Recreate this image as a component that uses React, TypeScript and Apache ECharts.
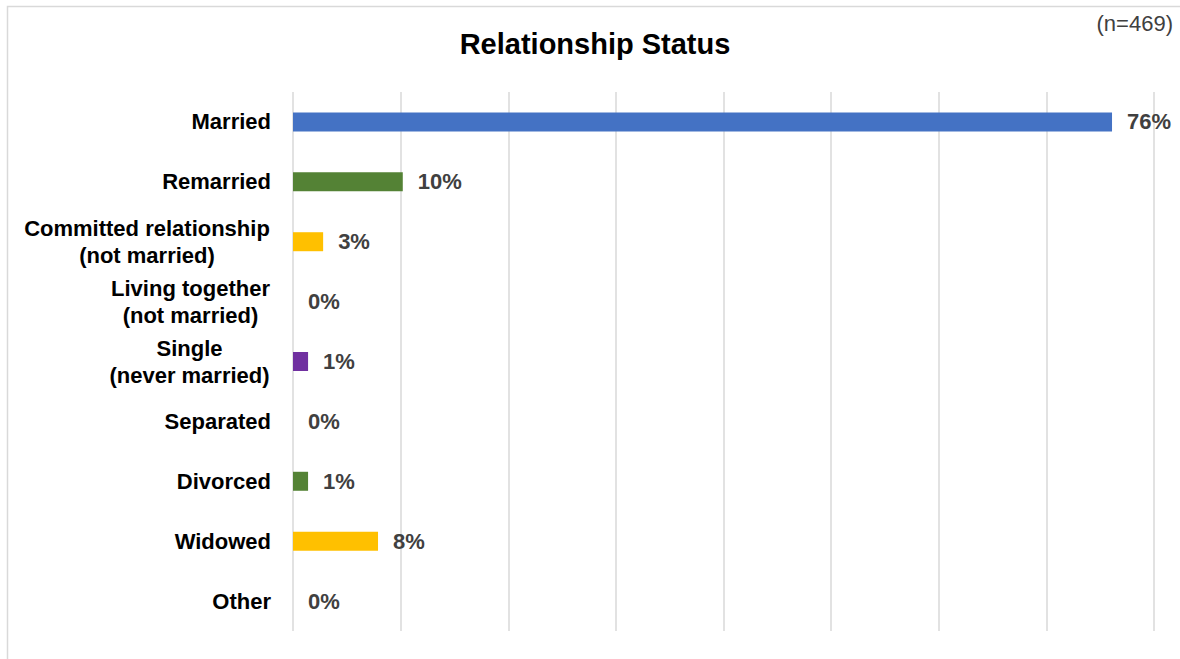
import React, { useEffect, useRef } from "react";
import * as echarts from "echarts";

const categories = [
  "Married",
  "Remarried",
  "Committed relationship\n(not married)",
  "Living together\n(not married)",
  "Single\n(never married)",
  "Separated",
  "Divorced",
  "Widowed",
  "Other",
];
const values = [76.1, 10.2, 2.8, 0, 1.4, 0, 1.4, 7.9, 0];
const barColors = [
  "#4472C4",
  "#548235",
  "#FFC000",
  "#A5A5A5",
  "#7030A0",
  "#4472C4",
  "#548235",
  "#FFC000",
  "#7030A0",
];
const xTicks = [0, 10, 20, 30, 40, 50, 60, 70, 80];
const titleText = "Relationship Status";
const sampleText = "(n=469)";

const FONT = '"Liberation Sans", Arial, sans-serif';
const LABEL_SIZE = 22;

function measure(text: string): number {
  const c = document.createElement("canvas");
  const ctx = c.getContext("2d");
  if (!ctx) return text.length * 11;
  ctx.font = `bold ${LABEL_SIZE}px ${FONT}`;
  return ctx.measureText(text).width;
}

export default function App() {
  const ref = useRef<HTMLDivElement>(null);

  useEffect(() => {
    if (!ref.current) return;
    const chart = echarts.init(ref.current, null, { renderer: "svg" });

    const rich: Record<string, any> = {};
    categories.forEach((cat, i) => {
      const lines = cat.split("\n");
      const w = Math.ceil(Math.max(...lines.map(measure))) + 2;
      rich["c" + i] = {
        width: lines.length > 1 ? w : undefined,
        align: lines.length > 1 ? "center" : "right",
        fontSize: LABEL_SIZE,
        fontWeight: "bold",
        fontFamily: FONT,
        color: "#000000",
        lineHeight: 27,
      };
    });

    chart.setOption({
      animation: false,
      backgroundColor: "#ffffff",
      graphic: [
        {
          type: "rect",
          shape: { x: 7.5, y: 6.5, width: 1300, height: 800 },
          style: { fill: "none", stroke: "#d9d9d9", lineWidth: 1.5 },
          silent: true,
        },
        {
          type: "text",
          x: 595,
          y: 44,
          style: {
            text: titleText,
            fontSize: 29,
            fontWeight: "bold",
            fontFamily: FONT,
            fill: "#000000",
            textAlign: "center",
            textVerticalAlign: "middle",
          },
        },
        {
          type: "text",
          x: 1173,
          y: 23,
          style: {
            text: sampleText,
            fontSize: 22,
            fontFamily: FONT,
            fill: "#404040",
            textAlign: "right",
            textVerticalAlign: "middle",
          },
        },
      ],
      grid: { left: 293, right: 26, top: 92, bottom: 28, containLabel: false },
      xAxis: {
        type: "value",
        min: xTicks[0],
        max: xTicks[xTicks.length - 1],
        interval: 10,
        axisLabel: { show: false },
        axisLine: { show: false },
        axisTick: { show: false },
        splitLine: { show: true, lineStyle: { color: "#d9d9d9", width: 1.5 } },
      },
      yAxis: {
        type: "category",
        data: categories,
        inverse: true,
        axisLine: { show: false },
        axisTick: { show: false },
        axisLabel: {
          margin: 22,
          formatter: (v: string) => {
            const i = categories.indexOf(v);
            return v
              .split("\n")
              .map((l) => `{c${i}|${l}}`)
              .join("\n");
          },
          rich,
        },
      },
      series: [
        {
          type: "bar",
          data: values.map((v, i) => ({ value: v, itemStyle: { color: barColors[i] } })),
          barWidth: 19,
          label: {
            show: true,
            position: "right",
            distance: 15,
            formatter: (p: any) => `${Math.round(p.value)}%`,
            fontSize: 22,
            fontWeight: "bold",
            fontFamily: FONT,
            color: "#404040",
          },
        },
      ],
    });

    return () => chart.dispose();
  }, []);

  return (
    <div
      ref={ref}
      style={{ position: "absolute", left: 0, top: 0, width: 1180, height: 659 }}
    />
  );
}
